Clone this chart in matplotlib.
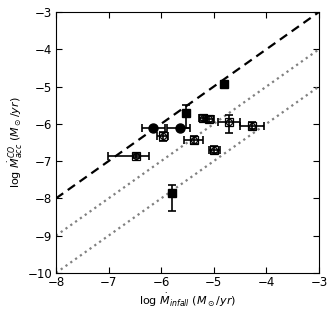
import matplotlib
matplotlib.use("Agg")
import matplotlib.pyplot as plt
import numpy as np

# Filled circles
fc_x = [-6.15, -5.64]
fc_y = [-6.10, -6.10]
fc_xerr_lo = [0.22, 0.24]
fc_xerr_hi = [0.22, 0.18]

# Filled squares
fs_x = [-4.80, -5.52, -5.80]
fs_y = [-4.93, -5.70, -7.86]
fs_yerr_lo = [0.06, 0.40, 0.47]
fs_yerr_hi = [0.06, 0.20, 0.22]

# Open markers
op_x = [-5.97, -6.48, -5.38, -5.20, -5.09, -4.71, -4.27, -4.99]
op_y = [-6.33, -6.87, -6.43, -5.85, -5.88, -5.94, -6.05, -6.69]
op_xerr_lo = [0.10, 0.53, 0.18, 0.08, 0.10, 0.20, 0.23, 0.10]
op_xerr_hi = [0.10, 0.25, 0.18, 0.08, 0.10, 0.20, 0.23, 0.10]
op_yerr_lo = [0.12, 0.05, 0.10, 0.08, 0.08, 0.30, 0.10, 0.10]
op_yerr_hi = [0.12, 0.05, 0.10, 0.08, 0.08, 0.18, 0.10, 0.10]

line_x = [-8, -3]

fig = plt.figure(figsize=(3.35, 3.17), dpi=100)
ax = fig.add_axes([0.167, 0.139, 0.785, 0.823])

lx = np.array(line_x)
ax.plot(lx, lx, 'k--', lw=1.6, dashes=(4, 2.5))
ax.plot(lx, lx - 1, ':', color='gray', lw=1.6)
ax.plot(lx, lx - 2, ':', color='gray', lw=1.6)

ax.errorbar(fc_x, fc_y, xerr=[fc_xerr_lo, fc_xerr_hi], fmt='o', color='k',
            ms=6.5, capsize=3, elinewidth=1.2, capthick=1.2)
ax.errorbar(fs_x, fs_y, yerr=[fs_yerr_lo, fs_yerr_hi], fmt='s', color='k',
            ms=6, capsize=3, elinewidth=1.2, capthick=1.2)
ax.errorbar(op_x, op_y, xerr=[op_xerr_lo, op_xerr_hi], yerr=[op_yerr_lo, op_yerr_hi],
            fmt='none', ecolor='k', capsize=3, elinewidth=1.2, capthick=1.2, zorder=3)
ax.plot(op_x, op_y, 's', mfc='none', mec='k', ms=6, mew=0.9, zorder=4)
ax.plot(op_x, op_y, 'o', mfc='none', mec='k', ms=4.3, mew=0.9, zorder=4)

ax.set_xlim(-8, -3)
ax.set_ylim(-10, -3)
ax.set_xticks([-8, -7, -6, -5, -4, -3])
ax.set_yticks([-10, -9, -8, -7, -6, -5, -4, -3])
ax.tick_params(direction='in', top=True, right=True, labelsize=8.5, length=4, pad=2.5)
ax.set_xlabel(r'log $\dot{M}_{infall}$ ($M_\odot/yr$)', fontsize=8, labelpad=2)
ax.set_ylabel(r'log $\dot{M}^{CO}_{acc}$ ($M_\odot/yr$)', fontsize=8, labelpad=2)

fig.savefig('out.png', dpi=100)
